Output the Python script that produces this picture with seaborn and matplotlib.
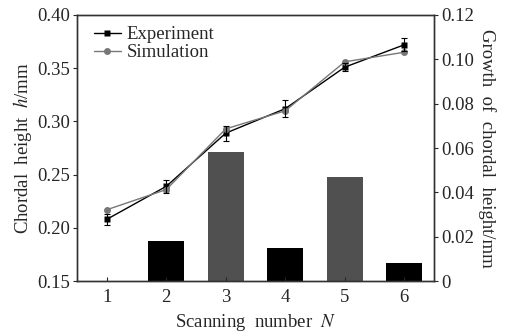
import matplotlib
matplotlib.use("Agg")
import matplotlib.pyplot as plt
import seaborn as sns
import pandas as pd

# data
scan_n = [1, 2, 3, 4, 5, 6]
exp_h = [0.208, 0.239, 0.289, 0.312, 0.351, 0.372]
exp_err = [0.005, 0.006, 0.007, 0.008, 0.004, 0.006]
sim_h = [0.217, 0.236, 0.293, 0.310, 0.356, 0.365]
growth = [0.0, 0.018, 0.058, 0.015, 0.047, 0.008]
bar_colors = ["#000000", "#000000", "#505050", "#000000", "#505050", "#000000"]

sns.set_style("ticks")
plt.rcParams["font.family"] = ["Liberation Serif", "DejaVu Serif"]
plt.rcParams["mathtext.fontset"] = "stix"

fig = plt.figure(figsize=(5.07, 3.33), dpi=100)
ax = fig.add_axes([0.152, 0.156, 0.704, 0.799])
ax2 = ax.twinx()

# bars on the right axis
bar_df = pd.DataFrame({"N": scan_n, "growth": growth})
sns.barplot(data=bar_df, x="N", y="growth", ax=ax2, native_scale=True,
            width=0.6, palette=bar_colors, hue="N", legend=False,
            edgecolor="none", saturation=1)

# lines on the left axis
line_df = pd.DataFrame({
    "N": scan_n * 2,
    "h": exp_h + sim_h,
    "kind": ["Experiment"] * 6 + ["Simulation"] * 6,
})
sns.lineplot(data=line_df, x="N", y="h", hue="kind", style="kind",
             palette={"Experiment": "#000000", "Simulation": "#777777"},
             markers={"Experiment": "s", "Simulation": "o"}, dashes=False,
             markersize=5, linewidth=1, markeredgecolor="none", ax=ax)
ax.errorbar(scan_n, exp_h, yerr=exp_err, fmt="none", ecolor="#000000",
            elinewidth=0.8, capsize=2, capthick=0.8)

ax.set_zorder(ax2.get_zorder() + 1)
ax.patch.set_visible(False)

ax.set_xlim(0.5, 6.5)
ax.set_ylim(0.15, 0.40)
ax2.set_ylim(0, 0.12)
ax.set_xticks(scan_n)
ax.set_yticks([0.15, 0.20, 0.25, 0.30, 0.35, 0.40])
ax.set_yticklabels(["0.15", "0.20", "0.25", "0.30", "0.35", "0.40"])
ax2.set_yticks([0, 0.02, 0.04, 0.06, 0.08, 0.10, 0.12])
ax2.set_yticklabels(["0", "0.02", "0.04", "0.06", "0.08", "0.10", "0.12"])

ax.tick_params(axis="x", direction="in", length=3, labelsize=13.5, pad=6)
ax.tick_params(axis="y", direction="out", length=3, labelsize=13.5, pad=2)
ax2.tick_params(axis="y", direction="out", length=3, labelsize=13.5, pad=2)
ax2.tick_params(axis="x", length=0)

ax.set_xlabel("Scanning  number  $N$", fontsize=13.5, labelpad=4)
ax.set_ylabel("Chordal  height  $h$/mm", fontsize=13.5, labelpad=2)
ax2.set_ylabel("Growth  of  chordal  height/mm", fontsize=13.5, rotation=-90,
               labelpad=16)
ax2.set_xlabel("")

for a in (ax, ax2):
    for s in a.spines.values():
        s.set_visible(True)
        s.set_linewidth(1.0)
        s.set_color("#333333")

leg = ax.legend(loc="upper left", frameon=False, fontsize=13.5,
                handlelength=1.45, handletextpad=0.3, labelspacing=0.05,
                borderaxespad=0.2, bbox_to_anchor=(0.015, 1.0))

fig.savefig("out.png", dpi=100)
